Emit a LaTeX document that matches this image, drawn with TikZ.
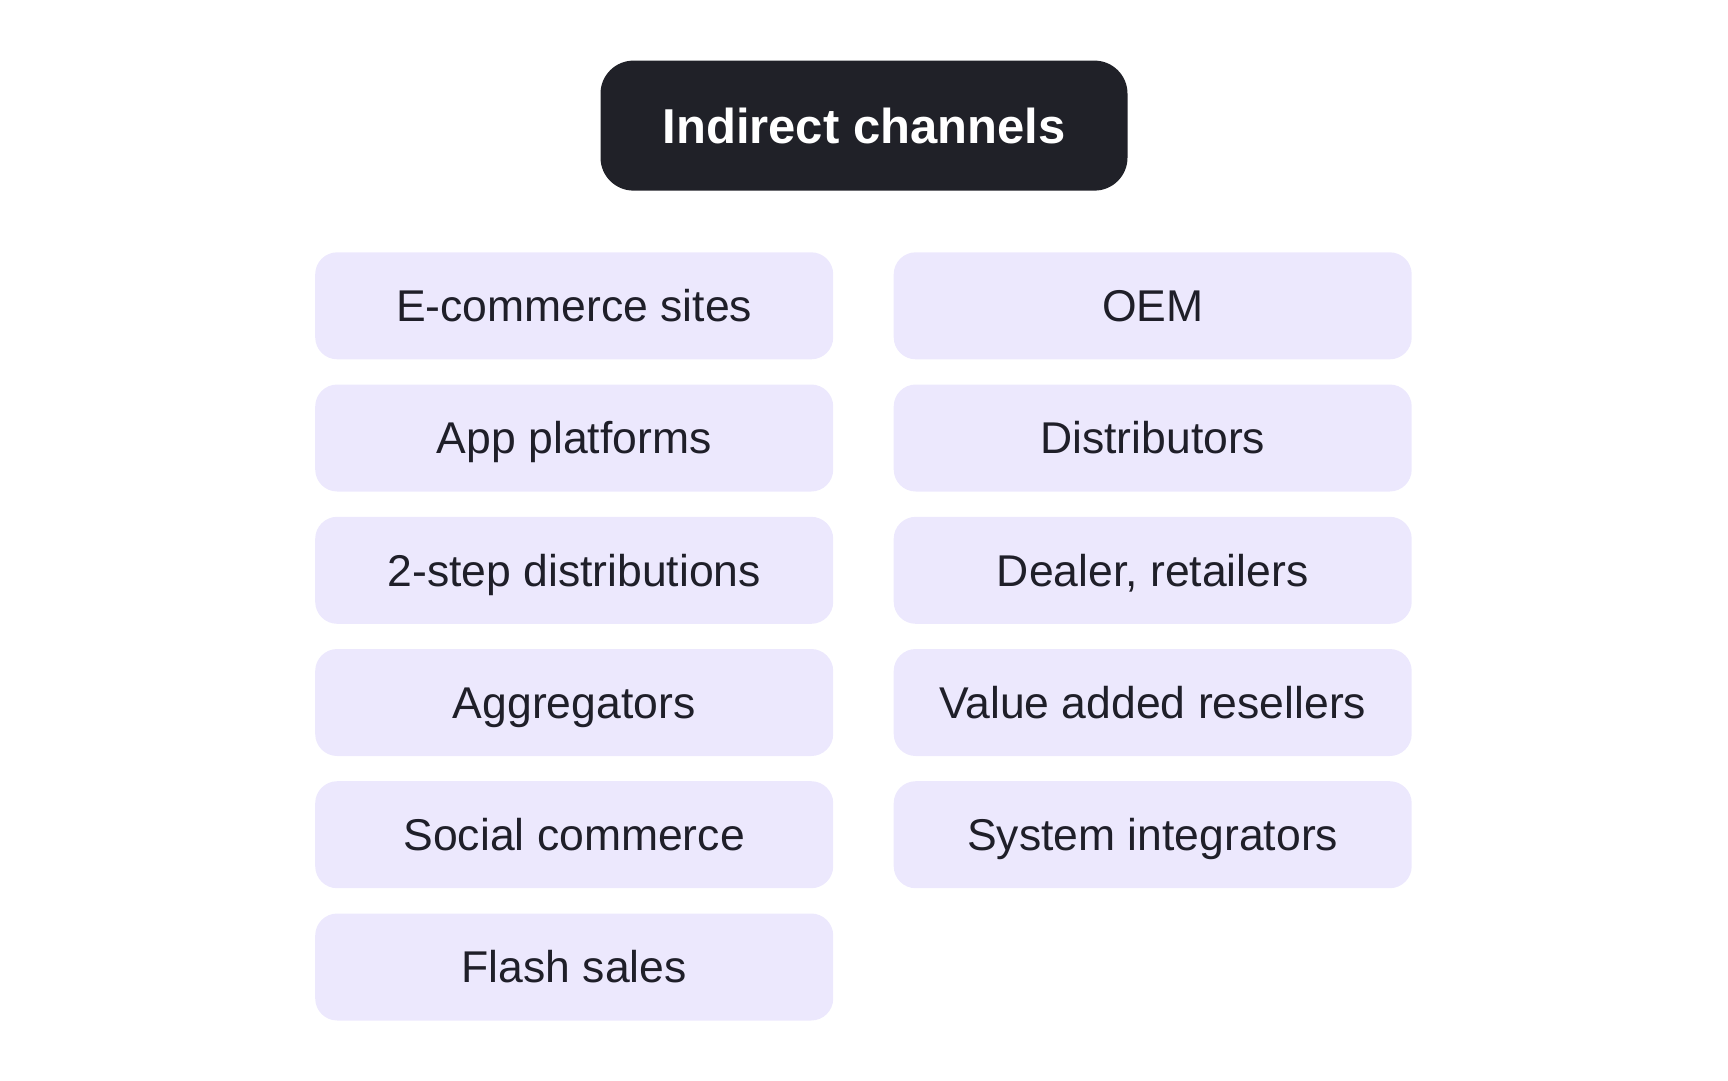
\documentclass[tikz,border=0pt]{standalone}
\usepackage{fontspec}
\setmainfont{Liberation Sans}
\usepackage{xcolor}
\usetikzlibrary{positioning}

\definecolor{headbg}{HTML}{202128}
\definecolor{itembg}{HTML}{ECE8FD}
\definecolor{itemtext}{HTML}{1F1F29}

\begin{document}
\begin{tikzpicture} [x = 1pt, y = -1pt,
					head/.style = {fill = headbg,
					    rounded corners = 33pt,
					    minimum width = 527pt,
					    minimum height = 130pt,
					    inner sep = 0pt,
					    text height = 35.1pt,
					    text depth = 0pt,
					    text = white,
					    font = \fontsize{49}{55}\selectfont\bfseries},
					item/.style = {fill = itembg,
					    rounded corners = 22pt,
					    minimum width = 518pt,
					    minimum height = 107pt,
					    inner sep = 0pt,
					    text height = 31.9pt,
					    text depth = 0pt,
					    text = itemtext,
					    font = \fontsize{44.5}{50}\selectfont}]

					\useasboundingbox (0,0) rectangle (1728,1080);

					\node (title) at (864,125.6) [head] {Indirect channels};

					% left column
					\node (ecom) at (574.2,305.8) [item] {E-commerce sites};
					\node (app) at (574.2,438) [item] {App platforms};
					\node (twostep) at (574.2,570.3) [item] {2-step distributions};
					\node (aggr) at (574.2,702.5) [item] {Aggregators};
					\node (social) at (574.2,834.7) [item] {Social commerce};
					\node (flash) at (574.2,967) [item] {Flash sales};

					% right column
					\node (oem) at (1152.7,305.8) [item] {OEM};
					\node (distr) at (1152.7,438) [item] {Distributors};
					\node (dealer) at (1152.7,570.3) [item] {Dealer, retailers};
					\node (var) at (1152.7,702.5) [item] {Value added resellers};
					\node (sysint) at (1152.7,834.7) [item] {System integrators};
				\end{tikzpicture}
\end{document}
